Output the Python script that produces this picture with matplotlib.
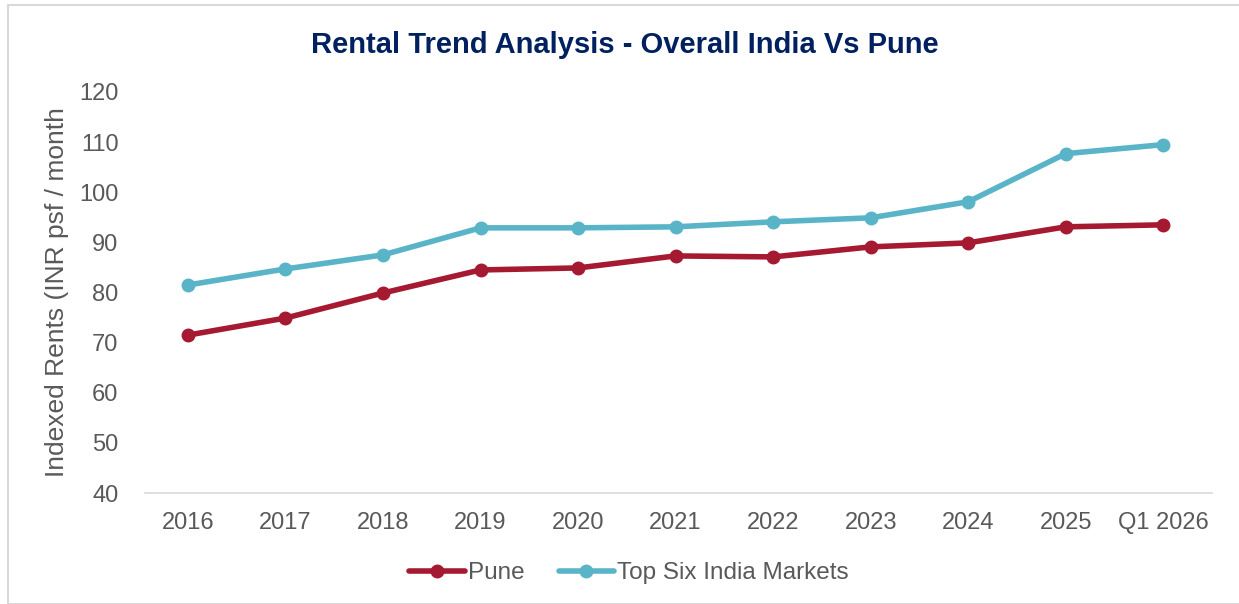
import matplotlib.pyplot as plt
from matplotlib.patches import Rectangle

plt.rcParams["font.family"] = ["Liberation Sans", "DejaVu Sans"]

# Data
years = ["2016", "2017", "2018", "2019", "2020", "2021", "2022", "2023", "2024", "2025", "Q1 2026"]
pune = [71.5, 74.9, 79.9, 84.5, 84.9, 87.3, 87.1, 89.1, 89.9, 93.1, 93.5]
top_six = [81.5, 84.7, 87.5, 92.9, 92.9, 93.1, 94.1, 94.9, 98.1, 107.7, 109.5]

W, H = 1239, 604
fig = plt.figure(figsize=(W / 100, H / 100), dpi=100)

# light frame around the chart area
fig.patches.append(Rectangle((8 / W, 0), 1.2, 1 - 5 / H, transform=fig.transFigure,
                             fill=False, edgecolor="#d9d9d9", linewidth=1.5))

ax = fig.add_axes([145 / W, 1 - 493 / H, (1212 - 145) / W, (493 - 92) / H])

x = range(len(years))
ax.plot(x, pune, color="#a51931", linewidth=4, marker="o", markersize=9,
        solid_capstyle="round", label="Pune")
ax.plot(x, top_six, color="#5ab4c8", linewidth=4, marker="o", markersize=9,
        solid_capstyle="round", label="Top Six India Markets")

ax.set_ylim(40, 120)
ax.set_yticks(range(40, 121, 10))
ax.set_xlim(-0.44, len(years) - 1 + 0.5)
ax.set_xticks(list(x))
ax.set_xticklabels(years)

for s in ["top", "right", "left"]:
    ax.spines[s].set_visible(False)
ax.spines["bottom"].set_color("#d9d9d9")
ax.spines["bottom"].set_linewidth(1.2)
ax.tick_params(axis="both", length=0, labelsize=17, labelcolor="#595959")
ax.tick_params(axis="x", pad=14)
ax.tick_params(axis="y", pad=19)

fig.text(57 / W, 1 - 292 / H, "Indexed Rents (INR psf / month", rotation=90,
         ha="center", va="center", fontsize=19, color="#595959")

fig.text(625 / W, 1 - 45 / H, "Rental Trend Analysis - Overall India Vs Pune",
         ha="center", va="center", fontsize=21, fontweight="bold", color="#002060")

fig.legend(loc="center", bbox_to_anchor=(629 / W, 1 - 573 / H), ncol=2, frameon=False,
           fontsize=17.5, handlelength=2.3, handletextpad=0.12, columnspacing=1.4,
           labelcolor="#595959")

fig.savefig("out.png", dpi=100, facecolor="white")
